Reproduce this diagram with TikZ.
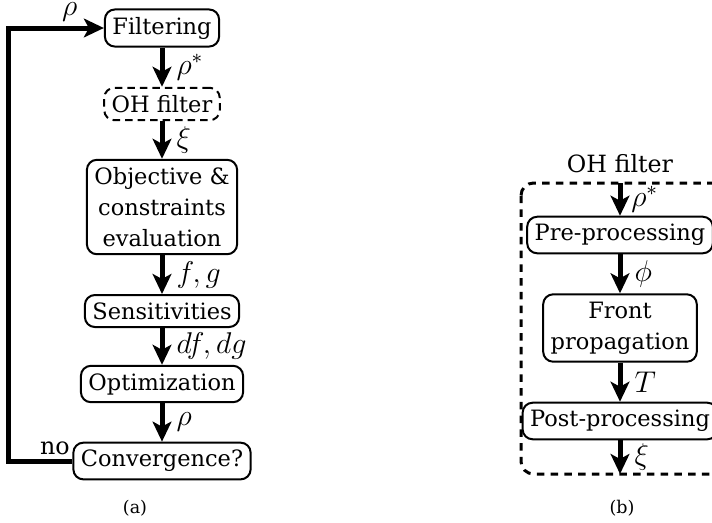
\documentclass[tikz,border=0pt]{standalone}
\usepackage{fontspec}
\setmainfont{DejaVu Serif}
\usetikzlibrary{arrows.meta}
\tikzset{
	block/.style={draw, line width=0.8pt, rounded corners=4pt, align=center, inner xsep=3pt, inner ysep=3pt, font=\fontsize{9}{12.4}\selectfont},
	ohbox/.style={block, dash pattern=on 3pt off 2pt},
	flow/.style={line width=2pt, -{Stealth[length=8pt,width=7.5pt,inset=2pt]}},
	lbl/.style={font=\fontsize{12}{14}\selectfont, xshift=1.5pt},
	txt/.style={font=\fontsize{9.5}{11}\selectfont},
	subcap/.style={font=\fontsize{7}{8}\selectfont},
}
\begin{document}
\begin{tikzpicture}[x=0.4pt,y=-0.4pt]
		\useasboundingbox (0,0) rectangle (712,522);
		%(a) optimization loop
		\node[block] (filt) at (162, 28){Filtering};
		\node[ohbox] (oh) at (162, 104){OH filter};
		\node[block] (obj) at (162, 207){Objective \&\\constraints\\evaluation};
		\node[block] (sens) at (162, 311){Sensitivities};
		\node[block] (opt) at (162, 384){Optimization};
		\node[block] (conv) at (162, 461){Convergence?};
		
		\draw[flow] (filt) -- node[lbl, right]{$\rho^*$} (oh);
		\draw[flow] (oh) -- node[lbl, right]{$\xi$} (obj);
		\draw[flow] (obj) -- node[lbl, right]{$f,g$} (sens);
		\draw[flow] (sens) -- node[lbl, right]{$df,dg$} (opt);
		\draw[flow] (opt) -- node[lbl, right]{$\rho$} (conv);
		
		%loop back
		\coordinate (back) at (8, 461);
		\draw[flow] (conv) -- (back) |- (filt);
		\node[txt] (no) at (55, 448){no};
		\node[lbl, inner sep=0pt] (rho) at (66, 12){$\rho$};
		\node[subcap] (capa) at (135, 508){(a)};
		
		%(b) OH filter
		\node[txt, inner sep=1pt] (ohname) at (620, 164){OH filter};
		\draw[line width=1.2pt, dash pattern=on 3pt off 2.5pt, rounded corners=5pt] (521, 183) rectangle (740, 474);
		\coordinate (ftop) at (620, 183);
		\coordinate (fbot) at (620, 474);
		\node[block] (pre) at (620, 235){Pre-processing};
		\node[block] (front) at (620, 328){Front\\propagation};
		\node[block] (post) at (620, 421){Post-processing};
		
		\draw[flow] (ftop) -- node[lbl, right, inner sep=1pt, xshift=1pt]{$\rho^*$} (pre);
		\draw[flow] (pre) -- node[lbl, right]{$\phi$} (front);
		\draw[flow] (front) -- node[lbl, right]{$T$} (post);
		\draw[flow] (post) -- node[lbl, right]{$\xi$} (fbot);
		\node[subcap] (capb) at (622, 508){(b)};
\end{tikzpicture}
\end{document}
